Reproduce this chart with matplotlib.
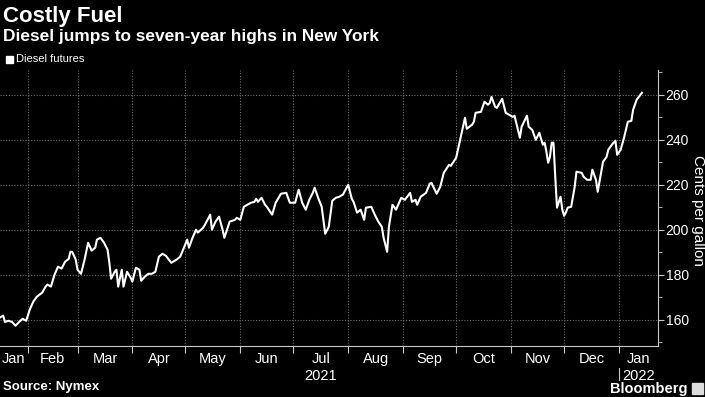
import numpy as np
import matplotlib
matplotlib.use('Agg')
import matplotlib.pyplot as plt
import matplotlib.dates as mdates

# Diesel futures, cents per gallon (days counted from 2021-01-01)
days = [15, 17, 18, 20, 22, 24, 26, 28, 30, 32, 34, 36, 39, 41, 42, 44, 46, 48, 50, 52,
        54, 55, 56, 58, 59, 61, 63, 65, 67, 69, 70, 72, 74, 76, 77, 78, 80, 81, 82, 84,
        85, 87, 89, 90, 92, 94, 95, 97, 99, 101, 103, 105, 107, 109, 112, 115, 117, 118, 121, 122,
        124, 126, 127, 130, 131, 134, 135, 137, 139, 141, 142, 145, 148, 149, 151, 153, 155, 157, 159, 160,
        161, 163, 165, 166, 169, 171, 174, 177, 179, 182, 184, 186, 188, 190, 192, 193, 195, 197, 199, 201,
        203, 205, 207, 209, 212, 214, 215, 217, 219, 221, 222, 225, 227, 229, 231, 232, 234, 235, 237, 239,
        242, 244, 247, 248, 250, 251, 253, 256, 258, 259, 262, 264, 266, 269, 270, 273, 275, 278, 279, 282,
        283, 284, 287, 289, 291, 292, 293, 295, 296, 299, 301, 303, 305, 306, 309, 310, 313, 314, 316, 318,
        320, 322, 323, 324, 325, 326, 327, 328, 329, 330, 332, 333, 334, 335, 336, 338, 340, 341, 344, 345,
        347, 349, 350, 352, 353, 355, 356, 358, 359, 361, 363, 364, 366, 368, 370, 372, 373, 375, 378]
diesel = [160.9, 161.8, 159.0, 159.5, 159.0, 157.3, 159.0, 160.4, 159.5, 164.4, 168.0, 170.2, 172.0, 174.7, 175.6, 174.7, 180.0, 183.6, 182.7, 185.8,
          187.0, 190.2, 190.2, 186.7, 182.2, 180.4, 186.7, 194.2, 190.7, 192.0, 195.6, 196.4, 194.2, 191.1, 185.3, 178.2, 181.3, 182.2, 174.7, 182.2,
          174.7, 181.3, 178.7, 176.9, 183.1, 182.2, 177.3, 179.1, 180.4, 180.4, 181.3, 188.0, 189.3, 188.4, 185.3, 186.7, 188.0, 189.8, 195.6, 192.0,
          196.4, 200.0, 198.7, 200.9, 202.2, 206.7, 200.0, 203.6, 205.8, 200.0, 196.4, 203.6, 204.4, 205.3, 204.4, 210.2, 211.1, 212.0, 212.4, 213.8,
          212.4, 214.2, 211.1, 210.2, 206.7, 212.0, 216.0, 216.4, 212.0, 212.0, 217.8, 212.0, 208.9, 213.3, 216.4, 218.7, 214.2, 210.2, 198.2, 201.3,
          212.9, 214.2, 214.7, 215.6, 220.0, 213.8, 212.4, 207.6, 208.9, 204.4, 209.8, 210.2, 206.7, 203.6, 201.3, 196.4, 190.2, 201.3, 211.1, 208.9,
          214.2, 213.3, 216.4, 212.4, 213.3, 211.1, 214.7, 216.4, 220.4, 220.9, 216.0, 219.1, 225.3, 228.9, 228.4, 232.0, 239.1, 249.8, 244.9, 246.7,
          248.0, 252.0, 252.4, 256.9, 255.6, 256.4, 259.1, 254.7, 254.2, 258.2, 252.0, 251.1, 250.2, 250.7, 240.9, 245.8, 250.7, 245.8, 244.4, 240.0,
          243.1, 237.8, 238.7, 234.7, 229.8, 232.4, 238.7, 238.7, 223.6, 209.8, 214.7, 208.9, 206.2, 207.6, 209.8, 210.2, 219.1, 225.8, 225.3, 223.6,
          222.2, 222.2, 226.7, 222.2, 216.9, 225.8, 230.2, 232.4, 235.6, 237.8, 239.6, 233.3, 235.6, 241.3, 248.0, 248.4, 253.3, 257.8, 260.9]

month_labels = ['Jan', 'Feb', 'Mar', 'Apr', 'May', 'Jun', 'Jul', 'Aug', 'Sep', 'Oct', 'Nov', 'Dec', 'Jan']
y_ticks = [160, 180, 200, 220, 240, 260]

plt.rcParams['font.family'] = ['Liberation Sans', 'DejaVu Sans']
fg = 'white'
grid_c = '#6a6a6a'
axis_c = '#c8c8c8'

base = np.datetime64('2021-01-01')
dates = base + np.array(days).astype('timedelta64[D]')

fig = plt.figure(figsize=(7.05, 3.97), dpi=100, facecolor='black')
ax = fig.add_axes([0.0, 0.1285, 0.9334, 0.695])
ax.set_facecolor('black')
ax.plot(dates, diesel, color='white', lw=1.5, solid_joinstyle='round')

x0 = mdates.date2num(base) + 15.2
x1 = mdates.date2num(base) + 387.1
ax.set_xlim(x0, x1)
ax.set_ylim(148.3, 271)

# month boundaries as major ticks, labels centred in each month
starts = [mdates.date2num(np.datetime64('2021-%02d-01' % m)) for m in range(2, 13)]
starts.append(mdates.date2num(np.datetime64('2022-01-01')))
edges = [x0] + starts + [x1]
mids = [(a + b) / 2 for a, b in zip(edges[:-1], edges[1:])]
ax.set_xticks(starts)
ax.set_xticklabels([])
ax.set_xticks(mids, minor=True)
ax.set_xticklabels(month_labels, minor=True)
ax.tick_params(axis='x', which='major', length=5, color=axis_c, direction='out')
ax.tick_params(axis='x', which='minor', length=0, pad=4.5, labelcolor=fg, labelsize=10.5)

ax.yaxis.tick_right()
ax.set_yticks(y_ticks)
ax.set_yticks(np.arange(150, 271, 20), minor=True)
ax.tick_params(axis='y', which='major', length=4, color=axis_c, labelcolor=fg, labelsize=10, pad=1.5)
ax.tick_params(axis='y', which='minor', length=3, color=axis_c)

ax.grid(True, which='major', color=grid_c, ls=(0, (1, 1.5)), lw=0.8)
for s in ['top', 'left']:
    ax.spines[s].set_visible(False)
ax.spines['bottom'].set_color(axis_c)
ax.spines['right'].set_color(axis_c)

fig.text(0.99, 0.47, 'Cents per gallon', color=fg, fontsize=11, rotation=270,
         ha='center', va='center')

# year labels
xt = ax.get_xaxis_transform()
ax.text(mids[6], -0.108, '2021', transform=xt, color=fg, fontsize=10.5, ha='center', va='center')
ax.text(mids[-1], -0.108, '2022', transform=xt, color=fg, fontsize=10.5, ha='center', va='center')
ax.plot([starts[-1], starts[-1]], [-0.08, -0.125], transform=xt, color=axis_c, lw=0.8,
        clip_on=False)

fig.text(0.004, 0.985, 'Costly Fuel', color=fg, fontsize=16, fontweight='bold', va='top')
fig.text(0.004, 0.928, 'Diesel jumps to seven-year highs in New York', color=fg,
         fontsize=12.4, fontweight='bold', va='top')
fig.patches.append(plt.Rectangle((0.008, 0.842), 0.010, 0.018, transform=fig.transFigure,
                                 color='white', figure=fig))
fig.text(0.022, 0.851, 'Diesel futures', color=fg, fontsize=8, va='center')

fig.text(0.004, 0.025, 'Source: Nymex', color=fg, fontsize=9.5, fontweight='bold', va='center')
fig.text(0.975, 0.020, 'Bloomberg', color=fg, fontsize=10.5, fontweight='bold',
         va='center', ha='right')
fig.patches.append(plt.Rectangle((0.982, 0.008), 0.015, 0.027, transform=fig.transFigure,
                                 color='#dddddd', figure=fig))

fig.savefig('out.png', dpi=100, facecolor='black')
